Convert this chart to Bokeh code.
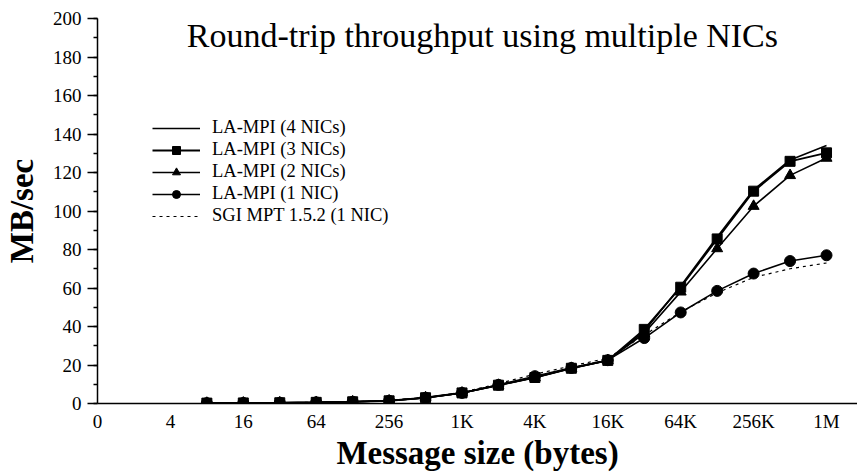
import numpy as np
from bokeh.plotting import figure
from bokeh.models import Legend, LegendItem, Label, FixedTicker, Range1d
from bokeh.embed import file_html
from bokeh.resources import INLINE

# ---- data ----
sizes = [8, 16, 32, 64, 128, 256, 512, 1024, 2048, 4096, 8192, 16384,
         32768, 65536, 131072, 262144, 524288, 1048576]
nic4 = [0.2, 0.3, 0.4, 0.6, 0.9, 1.4, 3.0, 5.5, 9.5, 13.5, 18.3, 22.4,
        37.5, 61.0, 86.5, 111.0, 126.5, 134.0]
nic3 = [0.2, 0.3, 0.4, 0.6, 0.9, 1.4, 3.0, 5.5, 9.5, 13.5, 18.3, 22.4,
        38.5, 60.4, 85.5, 110.3, 125.8, 130.2]
nic2 = [0.2, 0.3, 0.4, 0.6, 0.9, 1.4, 3.0, 5.5, 9.5, 13.5, 18.3, 22.4,
        36.5, 58.0, 80.5, 102.5, 118.5, 127.5]
nic1 = [0.2, 0.3, 0.4, 0.6, 0.9, 1.4, 3.0, 5.5, 9.7, 14.2, 18.5, 22.5,
        34.0, 47.3, 58.5, 67.5, 74.0, 77.0]
sgi = [0.2, 0.3, 0.4, 0.6, 0.9, 1.5, 3.2, 5.8, 10.3, 15.2, 19.5, 23.5,
       35.5, 47.5, 57.5, 65.5, 70.0, 73.0]
tick_pos = [0, 2, 4, 6, 8, 10, 12, 14, 16, 18, 20]
tick_labels = ["0", "4", "16", "64", "256", "1K", "4K", "16K", "64K", "256K", "1M"]
title_text = "Round-trip throughput using multiple NICs"
names = ["LA-MPI (4 NICs)", "LA-MPI (3 NICs)", "LA-MPI (2 NICs)",
         "LA-MPI (1 NIC)", "SGI MPT 1.5.2 (1 NIC)"]

x = np.log2(np.array(sizes, dtype=float))

SERIF = "Liberation Serif"

p = figure(width=857, height=473, output_backend="svg", toolbar_location=None,
           x_range=Range1d(0, 20.85), y_range=Range1d(0, 200),
           min_border_left=97, min_border_right=0, min_border_top=18,
           min_border_bottom=0)
p.outline_line_color = None
p.grid.visible = False
p.background_fill_color = "white"

# lines
r_sgi = p.line(x, sgi, line_color="black", line_width=1.2, line_dash="3 4")
r1l = p.line(x, nic1, line_color="black", line_width=1.6)
r1m = p.scatter(x, nic1, marker="circle", size=11, color="black")
r2l = p.line(x, nic2, line_color="black", line_width=1.6)
r2m = p.scatter(x, nic2, marker="triangle", size=11, color="black")
r4l = p.line(x, nic4, line_color="black", line_width=1.6)
r3l = p.line(x, nic3, line_color="black", line_width=1.9)
r3m = p.scatter(x, nic3, marker="square", size=10, color="black")

# axes
xa = p.xaxis[0]
xa.ticker = FixedTicker(ticks=tick_pos)
xa.major_label_overrides = {t: l for t, l in zip(tick_pos, tick_labels)}
xa.major_tick_out = 0
xa.major_tick_in = 0
xa.minor_tick_out = 0
xa.minor_tick_in = 0
xa.axis_line_width = 1.5
xa.major_label_text_font = SERIF
xa.major_label_text_font_size = "19px"
xa.major_label_text_color = "black"
xa.major_label_standoff = 7
xa.axis_label = "Message size (bytes)"
xa.axis_label_text_font = SERIF
xa.axis_label_text_font_style = "bold"
xa.axis_label_text_font_size = "33px"
xa.axis_label_text_color = "black"
xa.axis_label_standoff = 0

ya = p.yaxis[0]
ya.ticker = FixedTicker(ticks=list(range(0, 201, 20)),
                        minor_ticks=list(range(0, 201, 10)))
ya.major_tick_out = 10
ya.major_tick_in = 0
ya.minor_tick_out = 4
ya.minor_tick_in = 0
ya.axis_line_width = 1.5
ya.major_tick_line_width = 1.5
ya.minor_tick_line_width = 1.5
ya.major_label_text_font = SERIF
ya.major_label_text_font_size = "19px"
ya.major_label_text_color = "black"
ya.major_label_standoff = 6
ya.axis_label = "MB/sec"
ya.axis_label_text_font = SERIF
ya.axis_label_text_font_style = "bold"
ya.axis_label_text_font_size = "33px"
ya.axis_label_text_color = "black"
ya.axis_label_standoff = 10

p.add_layout(Label(x=10.56, y=191, text=title_text, text_font=SERIF,
                   text_font_size="34px", text_align="center",
                   text_baseline="middle", text_color="black"))

legend = Legend(items=[
    LegendItem(label=names[0], renderers=[r4l]),
    LegendItem(label=names[1], renderers=[r3l, r3m]),
    LegendItem(label=names[2], renderers=[r2l, r2m]),
    LegendItem(label=names[3], renderers=[r1l, r1m]),
    LegendItem(label=names[4], renderers=[r_sgi]),
], location=(55, 177))
legend.padding = 0
legend.margin = 0
legend.spacing = 1
legend.label_height = 20
legend.glyph_height = 20
legend.glyph_width = 48
legend.label_standoff = 12
legend.label_text_font = SERIF
legend.label_text_font_size = "18.5px"
legend.label_text_color = "black"
legend.border_line_alpha = 0
legend.background_fill_alpha = 0
p.add_layout(legend)

open("out.html", "w").write(file_html(p, INLINE))
